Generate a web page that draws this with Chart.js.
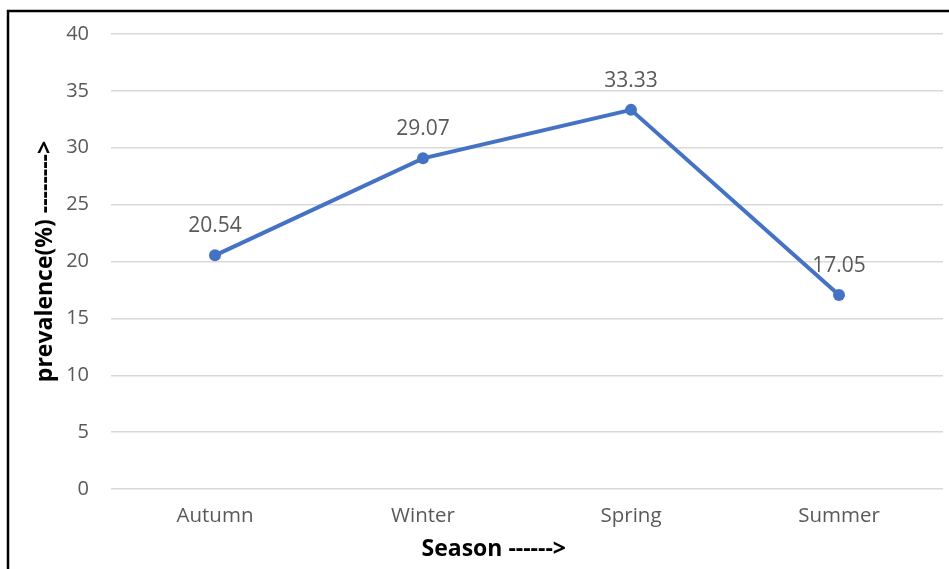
<!DOCTYPE html>
<html>
<head>
<meta charset="utf-8">
<script src="https://cdn.jsdelivr.net/npm/chart.js@4.4.1/dist/chart.umd.min.js"></script>
<style>
  html, body { margin: 0; padding: 0; background: #fff; }
  #wrap { position: relative; width: 949px; height: 569px; }
</style>
</head>
<body>
<div id="wrap"><canvas id="c" width="949" height="569"></canvas></div>
<script>
// Seasonal prevalence values
const seasons = ['Autumn', 'Winter', 'Spring', 'Summer'];
const prevalence = [20.54, 29.07, 33.33, 17.05];
const yMin = 0;
const yMax = 40;
const yStep = 5;
const xTitle = 'Season ------>';
const yTitle = 'prevalence(%) -------->';

const FONT = '"Open Sans", "DejaVu Sans", sans-serif';
const GREY = '#595959';
const BLUE = '#4472C4';

// Value labels above each point
const valueLabels = {
  id: 'valueLabels',
  afterDatasetsDraw(chart) {
    const ctx = chart.ctx;
    const meta = chart.getDatasetMeta(0);
    ctx.save();
    ctx.font = '21px ' + FONT;
    ctx.fillStyle = GREY;
    ctx.textAlign = 'center';
    ctx.textBaseline = 'middle';
    meta.data.forEach((pt, i) => {
      ctx.fillText(chart.data.datasets[0].data[i].toFixed(2), pt.x, pt.y - 29);
    });
    ctx.restore();
  }
};

// Horizontal axis title, set slightly left of centre
const xAxisTitle = {
  id: 'xAxisTitle',
  afterDraw(chart) {
    const ctx = chart.ctx;
    const a = chart.chartArea;
    ctx.save();
    ctx.font = 'bold 23px ' + FONT;
    ctx.fillStyle = '#000';
    ctx.textAlign = 'center';
    ctx.textBaseline = 'middle';
    ctx.fillText(xTitle, a.left + (a.right - a.left) * 0.46, 549);
    ctx.restore();
  }
};

// Frame lines along the top and left edges
const frame = {
  id: 'frame',
  afterDraw(chart) {
    const ctx = chart.ctx;
    ctx.save();
    ctx.strokeStyle = '#000';
    ctx.lineWidth = 2.5;
    ctx.beginPath();
    ctx.moveTo(8, chart.height);
    ctx.lineTo(8, 11);
    ctx.lineTo(chart.width, 11);
    ctx.stroke();
    ctx.restore();
  }
};

new Chart(document.getElementById('c'), {
  type: 'line',
  data: {
    labels: seasons,
    datasets: [{
      data: prevalence,
      borderColor: BLUE,
      backgroundColor: BLUE,
      borderWidth: 4,
      pointRadius: 6,
      pointBackgroundColor: BLUE,
      pointBorderColor: BLUE,
      pointBorderWidth: 0,
      tension: 0,
      fill: false
    }]
  },
  options: {
    responsive: false,
    animation: false,
    events: [],
    layout: { padding: { top: 29, right: 3, left: 32, bottom: 0 } },
    plugins: {
      legend: { display: false },
      tooltip: { enabled: false },
      title: { display: false }
    },
    scales: {
      x: {
        offset: true,
        grid: { display: false, drawTicks: false },
        border: { display: false },
        ticks: {
          color: GREY,
          padding: 15,
          font: { family: FONT, size: 20.5 }
        },
        afterFit(scale) { scale.height = 80; }
      },
      y: {
        min: yMin,
        max: yMax,
        grid: { color: '#d9d9d9', lineWidth: 1.5, drawTicks: false },
        border: { display: false },
        ticks: {
          stepSize: yStep,
          color: GREY,
          padding: 22,
          font: { family: FONT, size: 20 }
        },
        title: {
          display: true,
          text: yTitle,
          color: '#000',
          padding: { top: 0, bottom: 0 },
          font: { family: FONT, size: 23, weight: 'bold' }
        },
        afterFit(scale) { scale.width = 79; }
      }
    }
  },
  plugins: [valueLabels, xAxisTitle, frame]
});
</script>
</body>
</html>
